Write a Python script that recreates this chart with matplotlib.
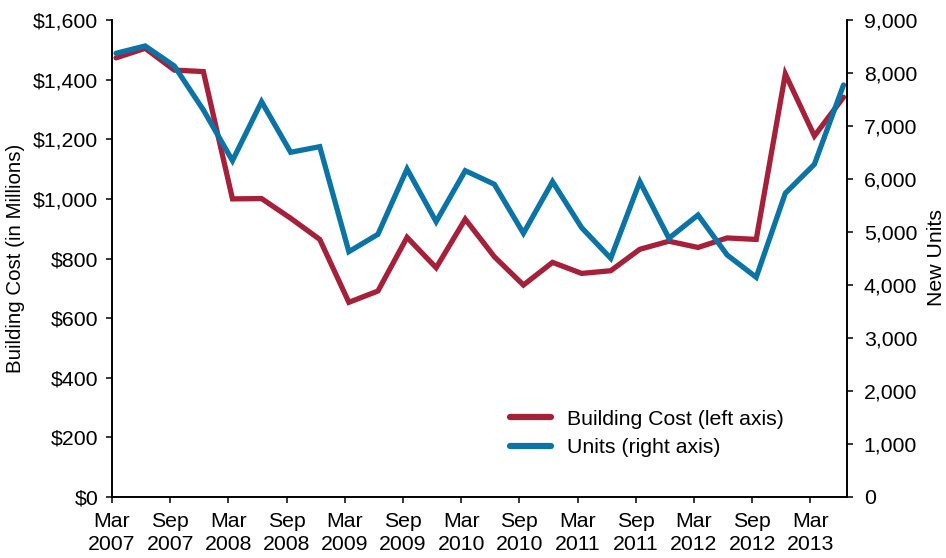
import numpy as np
import matplotlib
matplotlib.use("Agg")
import matplotlib.pyplot as plt

quarters = ["Mar 2007", "Jun 2007", "Sep 2007", "Dec 2007",
            "Mar 2008", "Jun 2008", "Sep 2008", "Dec 2008",
            "Mar 2009", "Jun 2009", "Sep 2009", "Dec 2009",
            "Mar 2010", "Jun 2010", "Sep 2010", "Dec 2010",
            "Mar 2011", "Jun 2011", "Sep 2011", "Dec 2011",
            "Mar 2012", "Jun 2012", "Sep 2012", "Dec 2012",
            "Mar 2013", "Jun 2013"]
building_cost = [1473, 1505, 1432, 1427, 1000, 1001, 935, 864,
                 653, 691, 871, 769, 932, 806, 711, 787,
                 750, 759, 831, 858, 837, 869, 864, 1419,
                 1211, 1341]
new_units = [8372, 8510, 8133, 7303, 6346, 7459, 6504, 6610,
             4629, 4957, 6189, 5195, 6157, 5901, 4976, 5950,
             5082, 4504, 5950, 4882, 5321, 4567, 4146, 5731,
             6278, 7774]
tick_labels = ["Mar\n2007", "Sep\n2007", "Mar\n2008", "Sep\n2008",
               "Mar\n2009", "Sep\n2009", "Mar\n2010", "Sep\n2010",
               "Mar\n2011", "Sep\n2011", "Mar\n2012", "Sep\n2012",
               "Mar\n2013"]
left_ticks = [0, 200, 400, 600, 800, 1000, 1200, 1400, 1600]
right_ticks = [0, 1000, 2000, 3000, 4000, 5000, 6000, 7000, 8000, 9000]

RED = "#A6203A"
BLUE = "#0B74A6"
FS = 15.3

plt.rcParams['font.family'] = ['Liberation Sans', 'DejaVu Sans']

fig = plt.figure(figsize=(9.46, 5.58), dpi=100)
ax = fig.add_axes([112 / 946, 1 - 497 / 558, (847 - 112) / 946, (497 - 20) / 558])
ax2 = ax.twinx()

x = np.arange(len(quarters))
l1, = ax.plot(x, building_cost, color=RED, lw=3.8, solid_capstyle='round',
              solid_joinstyle='miter', label="Building Cost (left axis)")
l2, = ax2.plot(x, new_units, color=BLUE, lw=3.8, solid_capstyle='round',
               solid_joinstyle='miter', label="Units (right axis)")

off = 0.14
ax.set_xlim(-off, len(quarters) - 1 + 0.12)
ax.set_xticks(np.arange(0, len(quarters), 2)[:len(tick_labels)] - off)
ax.set_xticklabels(tick_labels, fontsize=FS, linespacing=1.22)

ax.set_ylim(0, 1600)
ax.set_yticks(left_ticks)
ax.set_yticklabels(["$" + format(v, ",") for v in left_ticks], fontsize=FS)
ax2.set_ylim(0, 9000)
ax2.set_yticks(right_ticks)
ax2.set_yticklabels([format(v, ",") for v in right_ticks], fontsize=FS)

for a in (ax, ax2):
    a.spines['top'].set_visible(False)
    for s in a.spines.values():
        s.set_linewidth(1.2)
        s.set_color("black")
    a.tick_params(direction='out', length=4, width=1.1, color="black")
ax.tick_params(axis='y', pad=6)
ax.tick_params(axis='x', pad=7)
ax2.tick_params(axis='y', pad=8)

fig.text(16 / 946, 1 - 258 / 558, "Building Cost (in Millions)", fontsize=FS - 0.5,
         rotation=90, ha='center', va='center')
fig.text(936 / 946, 1 - 258 / 558, "New Units", fontsize=FS,
         rotation=90, ha='center', va='center')

leg = fig.legend(handles=[l1, l2], loc='center left',
                 bbox_to_anchor=(510 / 946, 1 - 433.5 / 558),
                 bbox_transform=fig.transFigure, frameon=False,
                 fontsize=FS, handlelength=1.95, handletextpad=0.75,
                 labelspacing=0.45, borderpad=0, borderaxespad=0)
for h in leg.get_lines():
    h.set_linewidth(4.5)
    h.set_solid_capstyle('round')

fig.savefig("out.png", dpi=100)
